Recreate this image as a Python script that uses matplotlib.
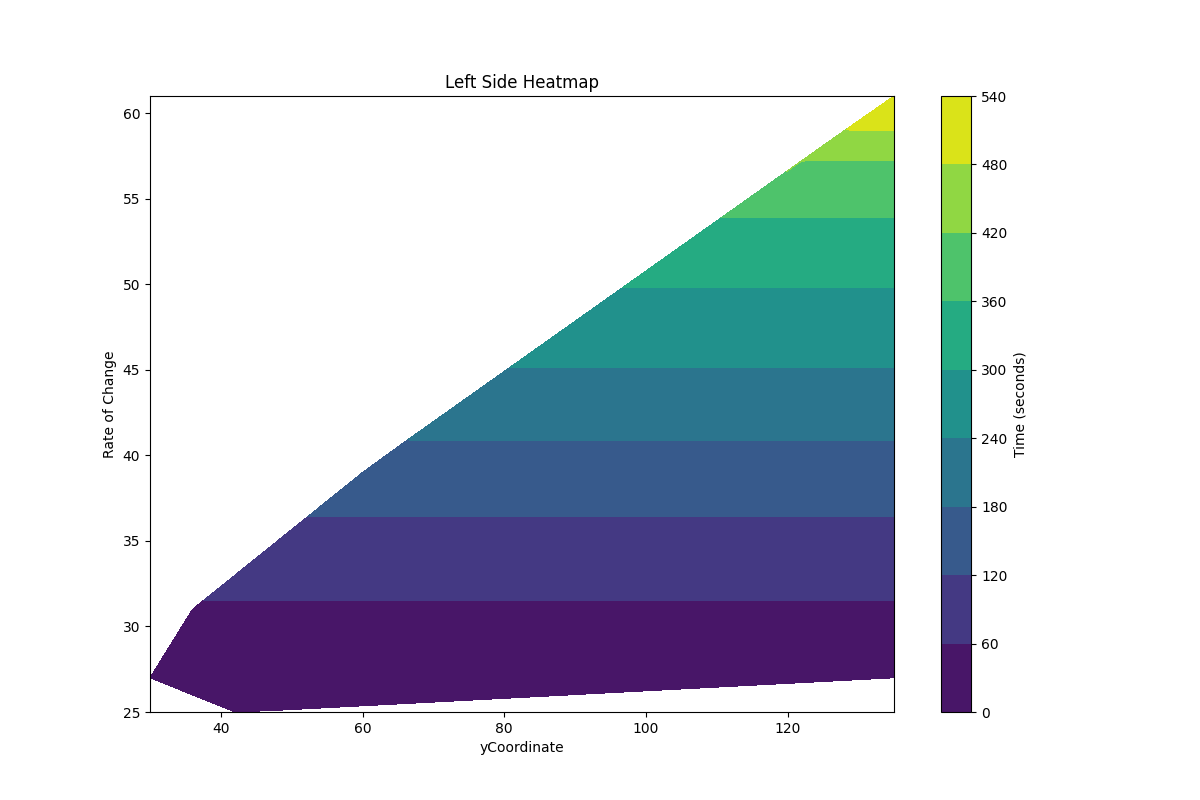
import numpy as np
import matplotlib
matplotlib.use("Agg")
import matplotlib.pyplot as plt

# sampled yCoordinate columns
x_cols = list(range(30, 136, 3))
# upper / lower edge of the sampled region per column (Rate of Change)
y_top = [27, 29, 31, 32, 33, 34, 35, 36, 37, 38, 39,
         39.9, 40.8, 41.6, 42.5, 43.4, 44.3, 45.2, 46.0, 46.9, 47.8,
         48.7, 49.6, 50.4, 51.3, 52.2, 53.1, 54.0, 54.8, 55.7, 56.6,
         57.5, 58.4, 59.2, 60.1, 61.0]
y_bot = [27, 26.5, 26, 25.5, 25,
         25.1, 25.1, 25.2, 25.3, 25.4, 25.4, 25.5, 25.6, 25.6, 25.7,
         25.8, 25.8, 25.9, 26.0, 26.0, 26.1, 26.2, 26.2, 26.3, 26.4,
         26.4, 26.5, 26.6, 26.6, 26.7, 26.8, 26.8, 26.9, 27.0, 27.0, 27.0]

# time (seconds) per rate of change
rate = list(range(25, 62))
time_s = [5, 12, 20, 28, 36, 45, 55, 65, 75, 88, 100, 115, 127, 140, 152,
          165, 182, 195, 210, 222, 238, 252, 265, 278, 290, 302, 315, 330,
          345, 362, 378, 395, 410, 450, 480, 505, 525]

xs, ys = [], []
for x, lo, hi in zip(x_cols, y_bot, y_top):
    col = sorted(set([lo, hi] + [v for v in rate if lo < v < hi]))
    xs += [x] * len(col)
    ys += col
xs = np.array(xs, float)
ys = np.array(ys, float)
zs = np.interp(ys, rate, time_s)

fig, ax = plt.subplots(figsize=(12, 8), dpi=100)
cs = ax.tricontourf(xs, ys, zs, levels=np.arange(0, 541, 60), cmap="viridis")
cb = fig.colorbar(cs, ax=ax)
cb.set_label("Time (seconds)")
ax.set_xlim(30, 135)
ax.set_ylim(25, 61)
ax.set_xlabel("yCoordinate")
ax.set_ylabel("Rate of Change")
ax.set_title("Left Side Heatmap")
fig.savefig("out.png")
